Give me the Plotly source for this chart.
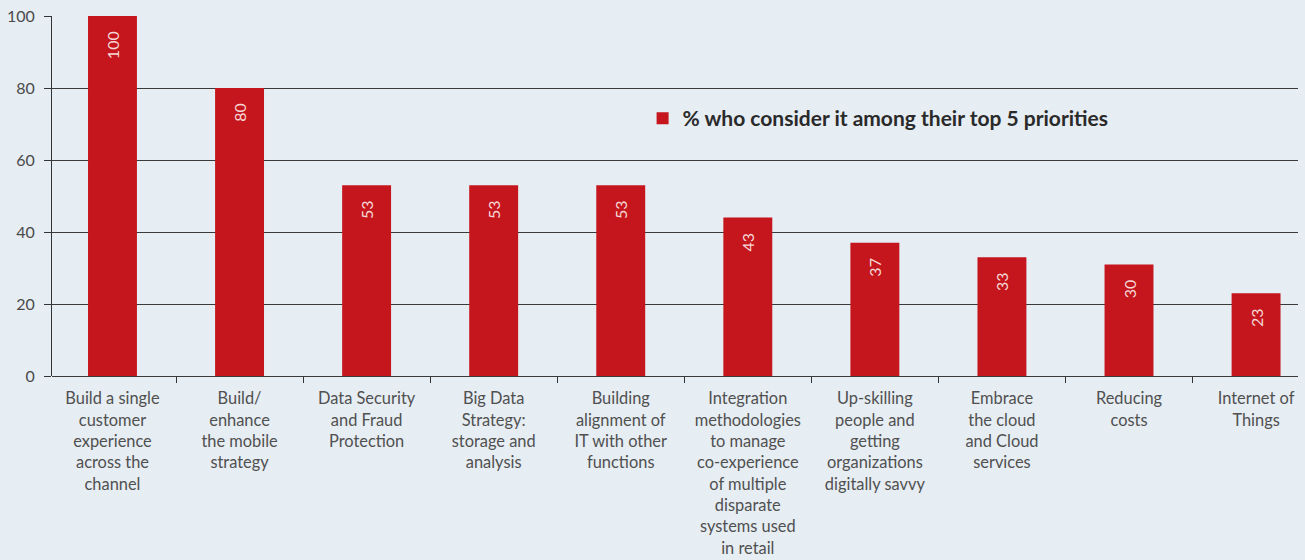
import plotly.graph_objects as go

categories = [
    "Build a single<br>customer<br>experience<br>across the<br>channel",
    "Build/<br>enhance<br>the mobile<br>strategy",
    "Data Security<br>and Fraud<br>Protection",
    "Big Data<br>Strategy:<br>storage and<br>analysis",
    "Building<br>alignment of<br>IT with other<br>functions",
    "Integration<br>methodologies<br>to manage<br>co-experience<br>of multiple<br>disparate<br>systems used<br>in retail",
    "Up-skilling<br>people and<br>getting<br>organizations<br>digitally savvy",
    "Embrace<br>the cloud<br>and Cloud<br>services",
    "Reducing<br>costs",
    "Internet of<br>Things",
]
bar_heights = [100, 80, 53, 53, 53, 44, 37, 33, 31, 23]
bar_labels = ["100", "80", "53", "53", "53", "43", "37", "33", "30", "23"]
series_name = "% who consider it among their top 5 priorities"
y_ticks = [0, 20, 40, 60, 80, 100]

positions = list(range(len(categories)))
RED = "#c4161c"
BG = "#e6edf3"
FONT = "Lato"

fig = go.Figure()
fig.add_trace(go.Bar(
    x=positions,
    y=bar_heights,
    width=0.385,
    marker=dict(color=RED, line=dict(width=0)),
    text=[t + "\u00a0\u00a0\u00a0" for t in bar_labels],
    textposition="inside",
    insidetextanchor="end",
    textangle=-90,
    textfont=dict(family=FONT, size=16, color="#f6d6d6"),
    name=series_name,
    showlegend=True,
    hoverinfo="skip",
))

fig.update_layout(
    width=1305,
    height=560,
    margin=dict(l=52, r=7, t=16, b=184, autoexpand=False),
    paper_bgcolor=BG,
    plot_bgcolor=BG,
    bargap=0.6,
    font=dict(family=FONT, color="#4a4a4a"),
    legend=dict(
        x=0.474, y=0.715, xanchor="left", yanchor="middle",
        bgcolor="rgba(0,0,0,0)",
        font=dict(family=FONT, size=21, color="#2a2a2a", weight="bold"),
        itemwidth=30,
    ),
    xaxis=dict(
        range=[-0.476, 9.33],
        tickmode="array",
        tickvals=positions,
        ticktext=categories,
        ticks="",
        showgrid=False,
        zeroline=False,
        showline=False,
        automargin=False,
        tickfont=dict(family=FONT, size=16.4, color="#505050"),
        ticklabelstandoff=11,
        minor=dict(tick0=0.5, dtick=1, ticks="outside", ticklen=6,
                   tickcolor="#333", tickwidth=1, showgrid=False),
        fixedrange=True,
    ),
    yaxis=dict(
        range=[0, 100],
        tickmode="array",
        tickvals=y_ticks,
        ticks="outside",
        ticklen=7,
        tickcolor="#333",
        tickwidth=1,
        showgrid=True,
        gridcolor="#3a3a3a",
        gridwidth=1,
        zeroline=True,
        zerolinecolor="#3a3a3a",
        zerolinewidth=1,
        showline=True,
        linecolor="#333",
        linewidth=1,
        automargin=False,
        tickfont=dict(family=FONT, size=16, color="#4a4a4a"),
        ticklabelstandoff=6,
        fixedrange=True,
    ),
)

fig.write_html("out.html")
